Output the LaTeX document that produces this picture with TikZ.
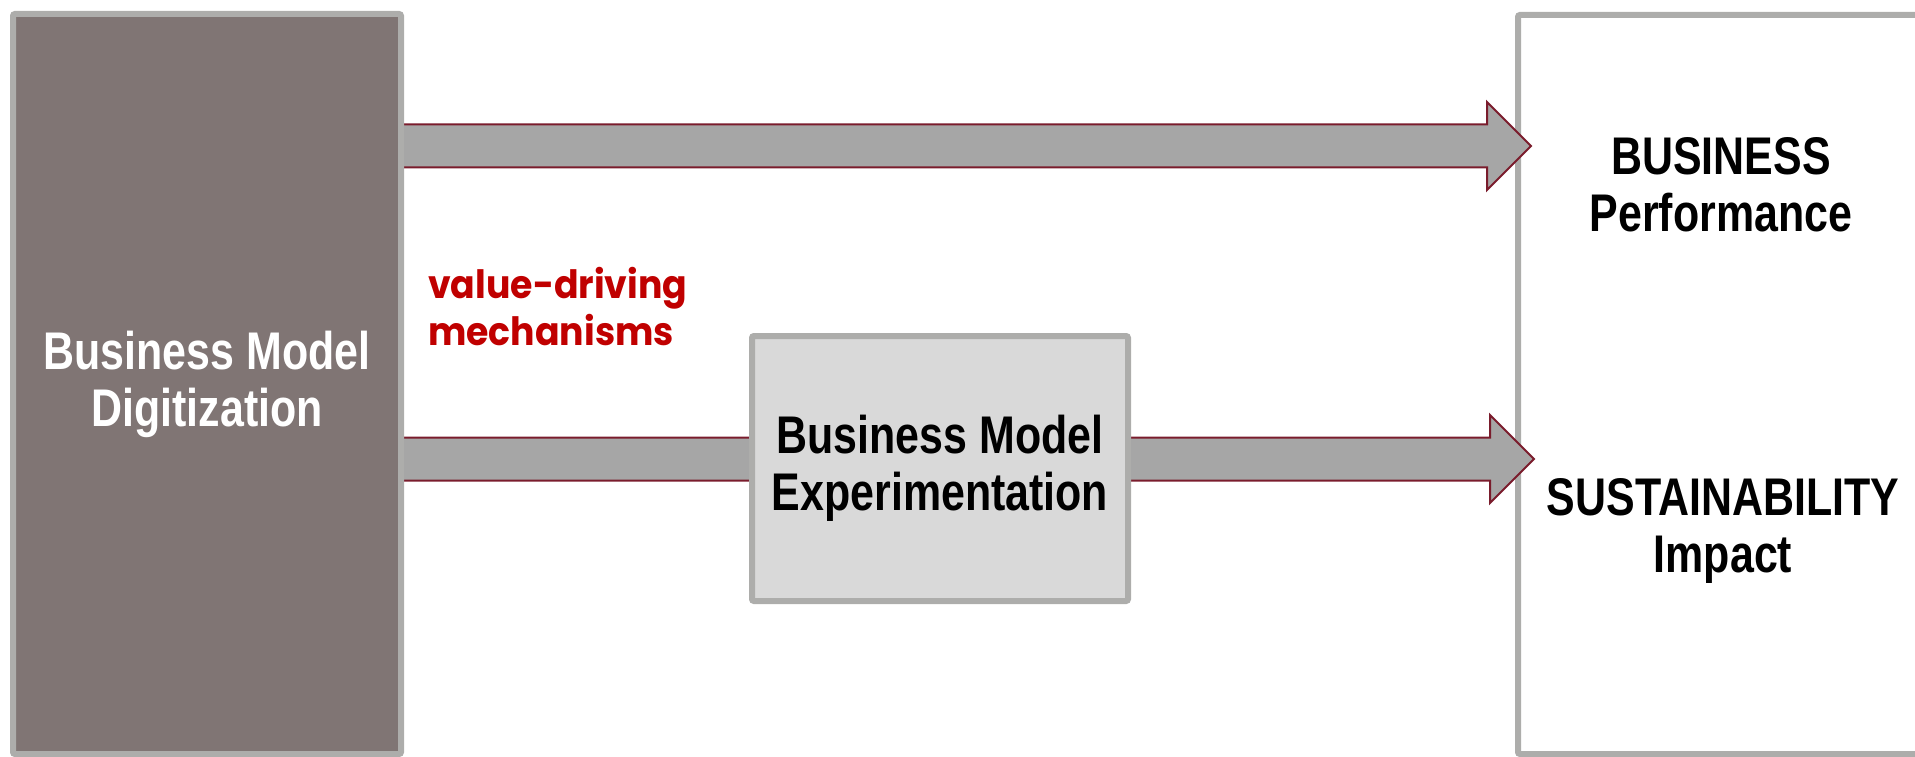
\documentclass[tikz,border=0pt]{standalone}
\usepackage{fontspec}
\newfontfamily\narrowsans{Liberation Sans}[FakeStretch=0.81]
\newfontfamily\geosans{Poppins}[FakeStretch=0.93]
\usetikzlibrary{calc,backgrounds}
\definecolor{framegray}{HTML}{ADADAB}
\definecolor{slate}{HTML}{807574}
\definecolor{lightbox}{HTML}{D9D9D9}
\definecolor{shaftgray}{HTML}{A6A6A6}
\definecolor{wine}{HTML}{7A1C2C}
\definecolor{accentred}{HTML}{C00000}

\begin{document}
\begin{tikzpicture}[x=1pt,y=-1pt,
  box/.style={draw=framegray, line width=6pt, rounded corners=2pt, inner sep=0pt,
    align=center, font=\narrowsans\bfseries\fontsize{53}{57}\selectfont},
  outcome/.style={inner sep=0pt, align=center,
    font=\narrowsans\bfseries\fontsize{53}{57}\selectfont},
  note/.style={inner sep=0pt, text=accentred,
    font=\geosans\bfseries\fontsize{39}{46}\selectfont},
  fatarrow/.style={fill=shaftgray, draw=wine, line width=2pt, line join=miter,
    to path={($(\tikztostart)+(-8,-21.5)$) -- ($(\tikztotarget)+(-44,-21.5)$)
      -- ($(\tikztotarget)+(-44,-44)$) -- (\tikztotarget)
      -- ($(\tikztotarget)+(-44,44)$) -- ($(\tikztotarget)+(-44,21.5)$)
      -- ($(\tikztostart)+(-8,21.5)$) -- cycle}}]
\useasboundingbox (0,0) rectangle (1915,757);

% driver and mediator boxes
\node[box, fill=slate, text=white, minimum width=388pt, minimum height=740pt]
  (lbox) at (207,384) {Business Model\\Digitization};
\node[box, fill=lightbox, text=black, minimum width=376pt, minimum height=265pt]
  (mbox) at (940,468.5) {Business Model\\Experimentation};

% outcome frame and the two wide arrows, behind the boxes
\begin{scope}[on background layer]
  \node[box, fill=white, minimum width=800pt, minimum height=739pt]
    (rbox) at (1918,384.5) {};
  \coordinate (tipA) at (1531,146);
  \coordinate (tipB) at (1534,459);
  \path[fatarrow] (lbox.east |- tipA) to (tipA);
  \path[fatarrow] (lbox.east |- tipB) to (tipB);
\end{scope}

% outcome labels
\node[outcome] (perf) at (1721,184.5) {BUSINESS\\Performance};
\node[outcome] (sust) at (1723,531) {SUSTAINABILITY\\Impact};

% mechanism note
\node[note, anchor=base west] (vd) at (428,298) {value-driving};
\node[note, anchor=base west] (mech) at (428,345) {mechanisms};
\end{tikzpicture}
\end{document}
